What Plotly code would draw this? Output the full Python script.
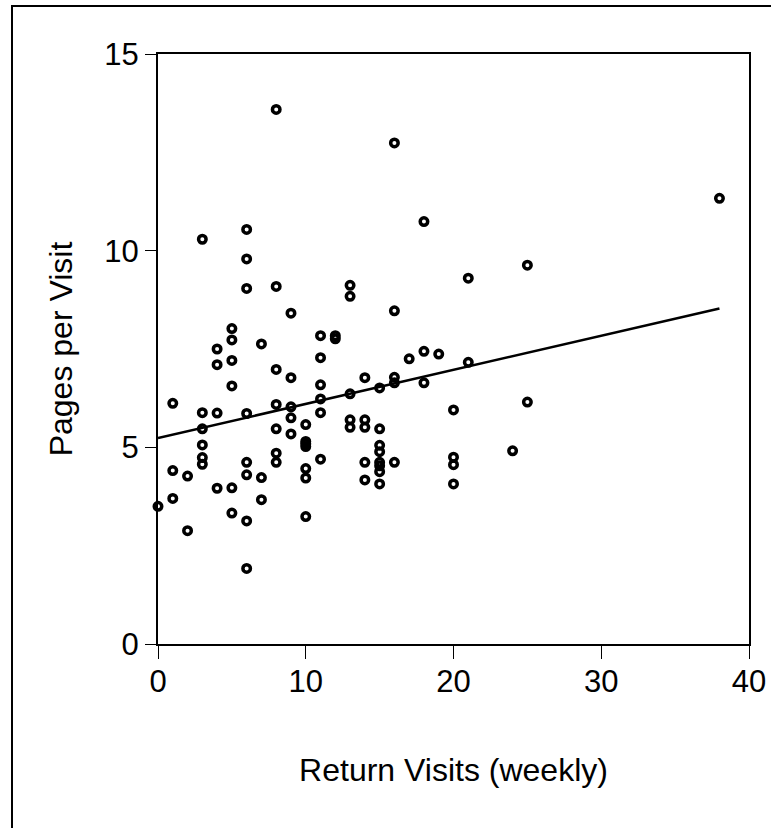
import numpy as np
import plotly.graph_objects as go

# Return visits (weekly) and pages per visit
return_visits = (
    [0]
    + [1] * 3
    + [2] * 2
    + [3] * 6
    + [4] * 4
    + [5] * 6
    + [6] * 8
    + [7] * 3
    + [8] * 7
    + [9] * 5
    + [10] * 7
    + [11] * 6
    + [12] * 2
    + [13] * 5
    + [14] * 5
    + [15] * 8
    + [16] * 5
    + [17]
    + [18] * 3
    + [19]
    + [20] * 4
    + [21] * 2
    + [24]
    + [25] * 2
    + [38]
)
pages_per_visit = [
    3.50,
    6.12, 4.41, 3.70,
    4.27, 2.88,
    10.29, 5.88, 5.47, 5.06, 4.74, 4.57,
    7.50, 7.10, 5.87, 3.96,
    8.02, 7.73, 7.21, 6.56, 3.97, 3.33,
    10.54, 9.79, 9.04, 5.86, 4.62, 4.30, 3.13, 1.92,
    7.63, 4.23, 3.67,
    13.59, 9.09, 6.98, 6.09, 5.47, 4.85, 4.62,
    8.41, 6.77, 6.03, 5.75, 5.34,
    5.58, 5.15, 5.09, 5.02, 4.46, 4.22, 3.24,
    7.84, 7.28, 6.59, 6.23, 5.88, 4.70,
    7.84, 7.76,
    9.12, 8.84, 6.36, 5.70, 5.51,
    6.77, 5.70, 5.51, 4.62, 4.17,
    6.51, 5.47, 5.05, 4.89, 4.62, 4.53, 4.38, 4.07,
    12.74, 8.47, 6.78, 6.64, 4.62,
    7.25,
    10.74, 7.44, 6.64,
    7.37,
    5.95, 4.75, 4.56, 4.07,
    9.30, 7.16,
    4.91,
    9.63, 6.15,
    11.33,
]

x_ticks = [0, 10, 20, 30, 40]
y_ticks = [0, 5, 10, 15]
x_title = "Return Visits (weekly)"
y_title = "Pages per Visit"

xa = np.array(return_visits, dtype=float)
ya = np.array(pages_per_visit, dtype=float)
slope, intercept = np.polyfit(xa, ya, 1)
fit_x = np.array([xa.min(), xa.max()])
fit_y = intercept + slope * fit_x

FONT = "Arial, 'Liberation Sans', sans-serif"

fig = go.Figure()
fig.add_trace(go.Scatter(
    x=return_visits, y=pages_per_visit, mode="markers",
    marker=dict(symbol="circle-open", size=7.5, color="black",
                line=dict(width=3.5, color="black")),
    cliponaxis=False, showlegend=False, hoverinfo="x+y",
))
fig.add_trace(go.Scatter(
    x=fit_x, y=fit_y, mode="lines",
    line=dict(color="black", width=2.5),
    showlegend=False, hoverinfo="skip",
))

axis_common = dict(
    showgrid=False, zeroline=False, showline=True, linecolor="black",
    linewidth=2, mirror=True, ticks="outside", tickcolor="black",
    tickwidth=1, tickfont=dict(family=FONT, size=31, color="black"),
    automargin=False,
)

fig.update_xaxes(
    range=[0, 40], tickvals=x_ticks, ticklen=13, ticklabelstandoff=-4,
    title=dict(text=x_title, font=dict(family=FONT, size=32, color="black"),
               standoff=60),
    **axis_common,
)
fig.update_yaxes(
    range=[0, 15], tickvals=y_ticks, ticklen=11, ticklabelstandoff=0,
    title=dict(text=y_title, font=dict(family=FONT, size=32, color="black"),
               standoff=22),
    **axis_common,
)

# outer frame (left and top edges visible in the reference)
L, R, T, B = 158, 22, 54, 184
W, H = 771, 828
pw, ph = W - L - R, H - T - B
fig.add_shape(type="rect", xref="paper", yref="paper",
              x0=(12 - L) / pw, x1=(W + 20 - L) / pw,
              y0=-(H + 20 - (T + ph)) / ph, y1=(T + ph - 6) / ph,
              line=dict(color="black", width=2), fillcolor="rgba(0,0,0,0)",
              layer="below")

fig.update_layout(
    width=W, height=H,
    margin=dict(l=L, r=R, t=T, b=B),
    paper_bgcolor="white", plot_bgcolor="white",
    font=dict(family=FONT, color="black"),
)

fig.write_html(
    "out.html",
    config={"displayModeBar": False},
    post_script="document.body.style.margin='0';document.body.style.overflow='hidden';",
)
